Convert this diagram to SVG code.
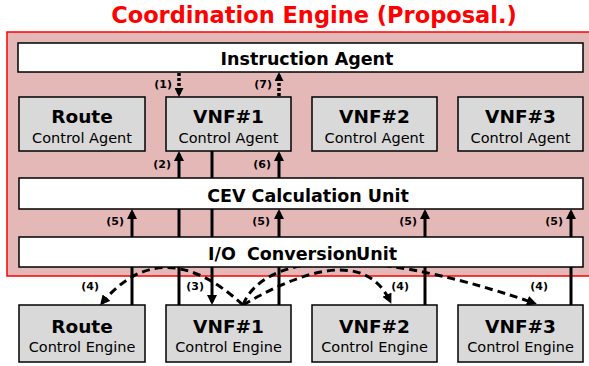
<svg xmlns="http://www.w3.org/2000/svg" width="589" height="366" viewBox="0 0 589 366">
<style>
text{font-family:"DejaVu Sans","Liberation Sans",sans-serif}
.title{font-size:22.5px;font-weight:bold;fill:#ff0000}
.wbox{fill:#ffffff;stroke:#000;stroke-width:1.5}
.gbox{fill:#d9d9d9;stroke:#000;stroke-width:1.5}
.big{font-size:17.5px;font-weight:bold;fill:#000}
.name{font-size:18.5px;font-weight:bold;fill:#000;text-anchor:middle}
.sub{font-size:14.5px;fill:#000;text-anchor:middle}
.lab{font-size:11px;font-weight:bold;fill:#000;text-anchor:end}
.solid{stroke:#000;stroke-width:3;fill:none}
.dot{stroke:#000;stroke-width:3.5;fill:none;stroke-dasharray:3 2}
.dash{stroke:#000;stroke-width:3;fill:none;stroke-dasharray:8 5}
</style>
<defs>
<marker id="ah" markerUnits="userSpaceOnUse" markerWidth="10" markerHeight="10" refX="7" refY="5" orient="auto">
<path d="M0,0 L10,5 L0,10 z" fill="#000"/>
</marker>
<marker id="ahs" markerUnits="userSpaceOnUse" markerWidth="9" markerHeight="9" refX="6" refY="4.5" orient="auto">
<path d="M0,0 L9,4.5 L0,9 z" fill="#000"/>
</marker>
</defs>
<text class="title" x="314" y="23" text-anchor="middle">Coordination Engine (Proposal.)</text>
<rect id="container" x="7" y="32" width="590" height="244" fill="#e5b8b8" stroke="#ff0000" stroke-width="1.5"/>
<g id="connectors">
<line class="dot" x1="179" y1="73" x2="179" y2="94" marker-end="url(#ahs)"/>
<line class="dot" x1="279" y1="96" x2="279" y2="75" marker-end="url(#ahs)"/>
<line class="solid" x1="132" y1="305" x2="132" y2="212" marker-end="url(#ah)"/>
<line class="solid" x1="179" y1="305" x2="179" y2="154" marker-end="url(#ah)"/>
<line class="solid" x1="212" y1="151" x2="212" y2="302" marker-end="url(#ah)"/>
<line class="solid" x1="279" y1="305" x2="279" y2="212" marker-end="url(#ah)"/>
<line class="solid" x1="279" y1="178" x2="279" y2="154" marker-end="url(#ah)"/>
<line class="solid" x1="425" y1="305" x2="425" y2="212" marker-end="url(#ah)"/>
<line class="solid" x1="571" y1="305" x2="571" y2="212" marker-end="url(#ah)"/>
<path class="dash" d="M243,305 Q162,231 102,303" marker-end="url(#ah)"/>
<path class="dash" d="M243,305 Q359,237 390,301" marker-end="url(#ah)"/>
<path class="dash" d="M243,305 C262,258 350,240 534,303" marker-end="url(#ah)"/>
<text class="lab" x="172" y="88">(1)</text>
<text class="lab" x="272" y="88">(7)</text>
<text class="lab" x="171" y="168">(2)</text>
<text class="lab" x="271" y="168">(6)</text>
<text class="lab" x="124" y="225">(5)</text>
<text class="lab" x="270" y="225">(5)</text>
<text class="lab" x="417" y="225">(5)</text>
<text class="lab" x="563" y="225">(5)</text>
<text class="lab" x="99" y="290">(4)</text>
<text class="lab" x="204" y="290">(3)</text>
<text class="lab" x="409" y="290">(4)</text>
<text class="lab" x="548" y="290">(4)</text>
</g>
<g id="instruction-agent">
<rect class="wbox" x="18" y="43" width="565" height="29"/>
<text class="big" x="307" y="65" text-anchor="middle">Instruction Agent</text>
</g>
<g id="route-agent">
<rect class="gbox" x="19" y="97" width="126" height="54"/>
<text class="name" x="82" y="123">Route</text>
<text class="sub" x="82" y="143">Control Agent</text>
</g>
<g id="vnf1-agent">
<rect class="gbox" x="166" y="97" width="125" height="54"/>
<text class="name" x="228.5" y="123">VNF#1</text>
<text class="sub" x="228.5" y="143">Control Agent</text>
</g>
<g id="vnf2-agent">
<rect class="gbox" x="312" y="97" width="125" height="54"/>
<text class="name" x="374.5" y="123">VNF#2</text>
<text class="sub" x="374.5" y="143">Control Agent</text>
</g>
<g id="vnf3-agent">
<rect class="gbox" x="458" y="97" width="125" height="54"/>
<text class="name" x="520.5" y="123">VNF#3</text>
<text class="sub" x="520.5" y="143">Control Agent</text>
</g>
<g id="cev-unit">
<rect class="wbox" x="19" y="178" width="564" height="31"/>
<text class="big" x="308" y="202" text-anchor="middle">CEV Calculation Unit</text>
</g>
<g id="io-unit">
<rect class="wbox" x="19" y="237" width="564" height="30"/>
<text class="big" y="260"><tspan x="208">I/O</tspan> <tspan x="247">Conversion</tspan> <tspan x="356">Unit</tspan></text>
</g>
<g id="route-engine">
<rect class="gbox" x="19" y="305" width="126" height="57"/>
<text class="name" x="82" y="333">Route</text>
<text class="sub" x="82" y="352">Control Engine</text>
</g>
<g id="vnf1-engine">
<rect class="gbox" x="166" y="305" width="125" height="57"/>
<text class="name" x="228.5" y="333">VNF#1</text>
<text class="sub" x="228.5" y="352">Control Engine</text>
</g>
<g id="vnf2-engine">
<rect class="gbox" x="312" y="305" width="125" height="57"/>
<text class="name" x="374.5" y="333">VNF#2</text>
<text class="sub" x="374.5" y="352">Control Engine</text>
</g>
<g id="vnf3-engine">
<rect class="gbox" x="458" y="305" width="125" height="57"/>
<text class="name" x="520.5" y="333">VNF#3</text>
<text class="sub" x="520.5" y="352">Control Engine</text>
</g>
</svg>
